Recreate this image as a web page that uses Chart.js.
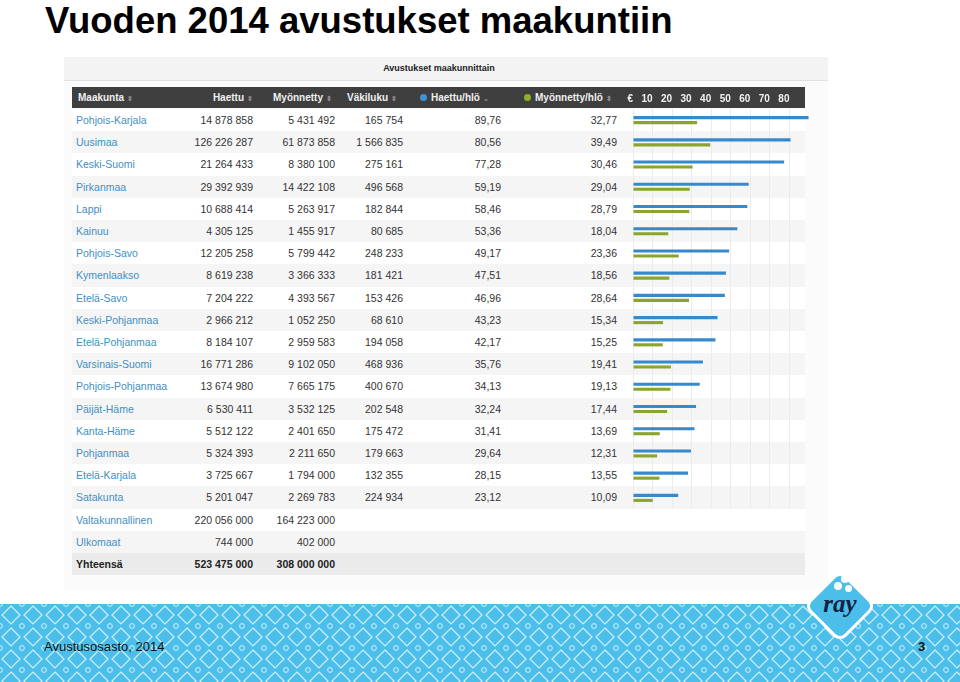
<!DOCTYPE html>
<html>
<head>
<meta charset="utf-8">
<script src="https://cdn.jsdelivr.net/npm/chart.js@4/dist/chart.umd.min.js"></script>
<style>
  html, body { margin: 0; padding: 0; }
  body { width: 960px; height: 682px; position: relative; overflow: hidden; background: #fff;
         font-family: "Liberation Sans", Arial, Helvetica, sans-serif; }
  .abs { position: absolute; }
  #title { left: 45px; top: 0px; font-size: 36.5px; line-height: normal; font-weight: bold; color: #000; white-space: nowrap; }
  #shot { left: 64px; top: 57px; width: 764px; height: 533px; background: #fbfbfb; }
  #shotbar { left: 64px; top: 57px; width: 764px; height: 23px; background: #f3f3f3; border-bottom: 1px solid #e0e0e0; }
  #shottitle { left: 64px; top: 57px; width: 750px; height: 23px; line-height: 23px; text-align: center; font-size: 9px; font-weight: bold; color: #222; }
  #head { left: 72px; top: 87px; width: 733px; height: 21px; background: #3f3f3f; }
  .hcell { position: absolute; top: 87px; height: 21px; line-height: 21px; font-size: 10px; font-weight: bold; color: #f0f0f0; white-space: nowrap; }
  .sort { color: #8a8a8a; font-size: 7px; margin-left: 3px; }
  .dot { display: inline-block; width: 7px; height: 7px; border-radius: 50%; margin-right: 4px; vertical-align: 0px; }
  .row { position: absolute; left: 72px; width: 733px; height: 22.2px; }
  .cell { position: absolute; height: 22px; line-height: 22px; font-size: 10.5px; color: #333; white-space: nowrap; }
  .name { color: #428fc4; }
  #chartbox { left: 600px; top: 87px; width: 215px; height: 430px; }
  #footer { left: 0; top: 604px; width: 960px; height: 78px; background-color: #4bbfea;
    background-image: url("data:image/svg+xml;utf8,<svg xmlns='http://www.w3.org/2000/svg' width='22' height='22'><path d='M11 2 L20 11 L11 20 L2 11 Z' fill='none' stroke='white' stroke-opacity='0.75' stroke-width='1.2'/><circle cx='0' cy='0' r='2.4' fill='none' stroke='white' stroke-opacity='0.75' stroke-width='1'/><circle cx='22' cy='0' r='2.4' fill='none' stroke='white' stroke-opacity='0.75' stroke-width='1'/><circle cx='0' cy='22' r='2.4' fill='none' stroke='white' stroke-opacity='0.75' stroke-width='1'/><circle cx='22' cy='22' r='2.4' fill='none' stroke='white' stroke-opacity='0.75' stroke-width='1'/></svg>");
    background-size: 22px 22px; }
  #foottext { left: 44px; top: 640px; font-size: 13px; line-height: 13px; color: #111; }
  #pagenum { left: 918px; top: 640px; font-size: 13px; line-height: 13px; color: #111; font-weight: bold; }
  #logo { left: 814px; top: 580px; width: 52px; height: 52px; background: #4bbfea; border: 3px solid #fff;
          border-radius: 9px; transform: rotate(45deg); box-sizing: border-box; }
  #logotext { left: 810px; top: 591px; width: 60px; text-align: center; font-family: "Liberation Serif", "DejaVu Serif", serif;
              font-style: italic; font-weight: bold; font-size: 25px; line-height: 25px; color: #15223f; }
  .bub { position: absolute; background: #fff; border-radius: 50%; }
</style>
</head>
<body>
<div id="title" class="abs">Vuoden 2014 avustukset maakuntiin</div>

<div id="shot" class="abs"></div>
<div id="shotbar" class="abs"></div>
<div id="shottitle" class="abs">Avustukset maakunnittain</div>
<div id="head" class="abs"></div>
<div id="rows"></div>
<div id="headers"></div>
<div id="chartbox" class="abs"><canvas id="chart" width="215" height="430"></canvas></div>

<div id="footer" class="abs"></div>
<div id="logo" class="abs"></div>
<div id="logotext" class="abs">ray</div>
<div class="bub" style="left:841px;top:575px;width:8px;height:8px;"></div>
<div class="bub" style="left:834px;top:582px;width:8px;height:8px;"></div>
<div class="bub" style="left:845px;top:585px;width:7px;height:7px;"></div>
<div id="foottext" class="abs">Avustusosasto, 2014</div>
<div id="pagenum" class="abs">3</div>

<script>
// ============= DATA =============
const regions = ['Pohjois-Karjala', 'Uusimaa', 'Keski-Suomi', 'Pirkanmaa', 'Lappi', 'Kainuu', 'Pohjois-Savo',
    'Kymenlaakso', 'Etelä-Savo', 'Keski-Pohjanmaa', 'Etelä-Pohjanmaa', 'Varsinais-Suomi', 'Pohjois-Pohjanmaa',
    'Päijät-Häme', 'Kanta-Häme', 'Pohjanmaa', 'Etelä-Karjala', 'Satakunta'];
const haettu = [14878858, 126226287, 21264433, 29392939, 10688414, 4305125, 12205258, 8619238, 7204222,
    2966212, 8184107, 16771286, 13674980, 6530411, 5512122, 5324393, 3725667, 5201047];
const myonnetty = [5431492, 61873858, 8380100, 14422108, 5263917, 1455917, 5799442, 3366333, 4393567,
    1052250, 2959583, 9102050, 7665175, 3532125, 2401650, 2211650, 1794000, 2269783];
const vakiluku = [165754, 1566835, 275161, 496568, 182844, 80685, 248233, 181421, 153426,
    68610, 194058, 468936, 400670, 202548, 175472, 179663, 132355, 224934];
const haettuHlo = [89.76, 80.56, 77.28, 59.19, 58.46, 53.36, 49.17, 47.51, 46.96,
    43.23, 42.17, 35.76, 34.13, 32.24, 31.41, 29.64, 28.15, 23.12];
const myonnettyHlo = [32.77, 39.49, 30.46, 29.04, 28.79, 18.04, 23.36, 18.56, 28.64,
    15.34, 15.25, 19.41, 19.13, 17.44, 13.69, 12.31, 13.55, 10.09];

const extraNames = ['Valtakunnallinen', 'Ulkomaat', 'Yhteensä'];
const extraHaettu = [220056000, 744000, 523475000];
const extraMyonnetty = [164223000, 402000, 308000000];

const xTicks = [0, 10, 20, 30, 40, 50, 60, 70, 80];

const BLUE = '#348acd';
const GREEN = '#8aa52e';
const ROW_TOP = 109;
const ROW_H = 22.2;

// ============= HELPERS =============
function fmtInt(n) {
    return String(n).replace(/\B(?=(\d{3})+(?!\d))/g, ' ');
}

function fmtDec(v) {
    return v.toFixed(2).replace('.', ',');
}

// ============= TABLE =============
function buildTable() {
    const rowsEl = document.getElementById('rows');
    let html = '';
    const total = regions.length + extraNames.length;

    for (let i = 0; i < total; i++) {
        const top = ROW_TOP + i * ROW_H;
        const isExtra = i >= regions.length;
        const j = i - regions.length;
        const isTotal = isExtra && j === 2;
        let bg = i % 2 === 1 ? '#f5f5f5' : '#ffffff';
        if (isTotal) bg = '#ebebeb';

        const name = isExtra ? extraNames[j] : regions[i];
        const h = isExtra ? extraHaettu[j] : haettu[i];
        const m = isExtra ? extraMyonnetty[j] : myonnetty[i];
        const weight = isTotal ? 'font-weight:bold;color:#222;' : '';

        html += `<div class="row" style="top:${top}px;background:${bg};">
            <div class="cell ${isTotal ? '' : 'name'}" style="left:4px;${weight}">${name}</div>
            <div class="cell" style="right:${805 - 253}px;${weight}">${fmtInt(h)}</div>
            <div class="cell" style="right:${805 - 335}px;${weight}">${fmtInt(m)}</div>
            ${isExtra ? '' : `
            <div class="cell" style="right:${805 - 403}px;">${fmtInt(vakiluku[i])}</div>
            <div class="cell" style="right:${805 - 501}px;">${fmtDec(haettuHlo[i])}</div>
            <div class="cell" style="right:${805 - 617}px;">${fmtDec(myonnettyHlo[i])}</div>`}
        </div>`;
    }
    rowsEl.innerHTML = html;

    // header cells
    const sortIcon = '<span class="sort">&#x2B0D;</span>';
    document.getElementById('headers').innerHTML = `
        <div class="hcell" style="left:78px;">Maakunta${sortIcon}</div>
        <div class="hcell" style="right:${960 - 253}px;">Haettu${sortIcon}</div>
        <div class="hcell" style="left:273px;">Myönnetty${sortIcon}</div>
        <div class="hcell" style="left:347px;">Väkiluku${sortIcon}</div>
        <div class="hcell" style="left:420px;"><span class="dot" style="background:#3d93d6"></span>Haettu/hlö<span class="sort">&#x2304;</span></div>
        <div class="hcell" style="left:524px;"><span class="dot" style="background:#8fae2a"></span>Myönnetty/hlö${sortIcon}</div>
    `;
}

// ============= CHART =============
function buildChart() {
    const ctx = document.getElementById('chart');
    new Chart(ctx, {
        type: 'bar',
        data: {
            labels: regions,
            datasets: [
                {
                    label: 'Haettu/hlö',
                    data: haettuHlo,
                    backgroundColor: BLUE,
                    borderWidth: 0,
                    categoryPercentage: 0.45,
                    barPercentage: 0.62
                },
                {
                    label: 'Myönnetty/hlö',
                    data: myonnettyHlo,
                    backgroundColor: GREEN,
                    borderWidth: 0,
                    categoryPercentage: 0.45,
                    barPercentage: 0.62
                }
            ]
        },
        options: {
            indexAxis: 'y',
            responsive: false,
            maintainAspectRatio: false,
            animation: false,
            layout: { padding: { left: 33, right: 6, top: 0, bottom: 8 } },
            plugins: {
                legend: { display: false },
                tooltip: { enabled: false }
            },
            scales: {
                x: {
                    position: 'top',
                    min: 0,
                    max: 90,
                    afterFit: (scale) => { scale.height = 22; },
                    afterBuildTicks: (scale) => {
                        scale.ticks = xTicks.concat([90]).map(v => ({ value: v }));
                    },
                    ticks: {
                        align: 'end',
                        padding: 4,
                        color: '#f2f2f2',
                        font: { family: '"Liberation Sans", Arial, sans-serif', size: 10, weight: 'bold' },
                        callback: (v) => v === 0 ? '€' : (xTicks.includes(v) ? String(v) : '')
                    },
                    grid: {
                        color: (c) => (c.tick && xTicks.includes(c.tick.value)) ? '#ebebeb' : 'rgba(0,0,0,0)',
                        drawTicks: false
                    },
                    border: { display: false }
                },
                y: { display: false }
            }
        }
    });
}

window.addEventListener('load', () => {
    buildTable();
    buildChart();
});
</script>
</body>
</html>
